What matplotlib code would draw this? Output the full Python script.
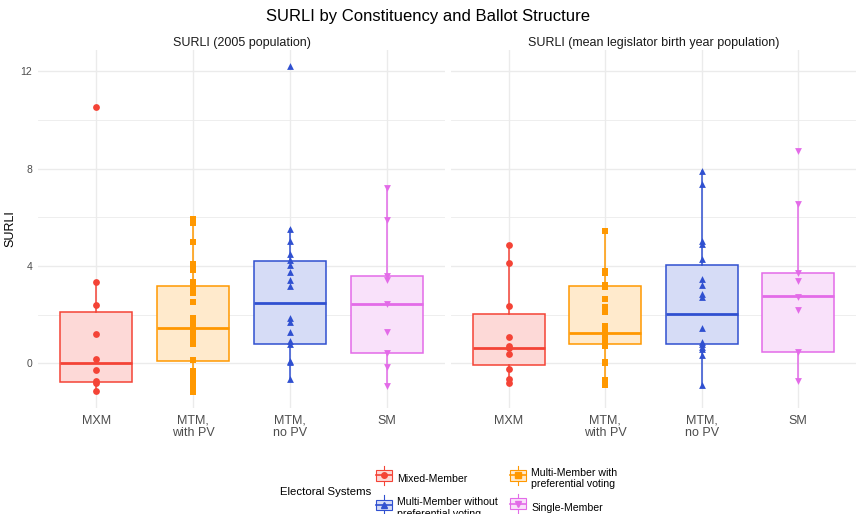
import numpy as np
import matplotlib
matplotlib.use('Agg')
import matplotlib.pyplot as plt
from matplotlib.lines import Line2D
from matplotlib.patches import Rectangle

plt.rcParams['font.family'] = ['Liberation Sans', 'DejaVu Sans']

# categories / groups
cats = ['MXM', 'MTM,\nwith PV', 'MTM,\nno PV', 'SM']
systems = ['Mixed-Member', 'Multi-Member with\npreferential voting',
           'Multi-Member without\npreferential voting', 'Single-Member']
colors = ['#F44336', '#FF9800', '#3050D0', '#E36BE8']
markers = ['o', 's', '^', 'v']
panels = ['SURLI (2005 population)', 'SURLI (mean legislator birth year population)']

# panel 1: 2005 population
pts_2005 = [
    [10.53, 3.34, 2.40, 1.23, 0.19, -0.26, -0.73, -0.79, -1.11],
    [5.93, 5.76, 4.99, 4.08, 3.83, 3.36, 3.12, 2.89, 2.53, 1.87, 1.70, 1.55, 1.40,
     1.25, 1.10, 0.95, 0.80, 0.15, -0.30, -0.50, -0.70, -0.90, -1.05, -1.16],
    [12.2, 5.50, 5.02, 4.48, 4.26, 4.03, 3.76, 3.43, 3.18, 1.87, 1.71, 1.28, 0.94,
     0.80, 0.12, 0.07, -0.62],
    [7.20, 5.88, 3.60, 3.41, 2.43, 1.30, 0.45, -0.15, -0.94],
]
q1_2005 = [-0.76, 0.12, 0.79, 0.45]
med_2005 = [0.0, 1.44, 2.50, 2.44]
q3_2005 = [2.10, 3.16, 4.19, 3.60]
lo_2005 = [-1.11, -1.16, -0.62, -0.94]
hi_2005 = [3.34, 5.93, 5.50, 7.20]

# panel 2: mean legislator birth year population
pts_birth = [
    [4.86, 4.12, 2.35, 1.07, 0.72, 0.62, 0.37, -0.22, -0.62, -0.80],
    [5.43, 3.81, 3.73, 3.24, 3.15, 2.63, 2.32, 2.12, 1.53, 1.28, 1.10, 0.90, 0.70,
     0.08, 0.03, -0.66, -0.87],
    [7.90, 7.35, 5.01, 4.90, 4.29, 3.46, 3.22, 2.86, 2.73, 1.44, 0.90, 0.79, 0.69,
     0.58, 0.34, -0.90],
    [8.74, 6.55, 3.70, 3.38, 2.74, 2.20, 0.46, -0.71],
]
q1_birth = [-0.07, 0.80, 0.79, 0.46]
med_birth = [0.64, 1.25, 2.05, 2.75]
q3_birth = [2.02, 3.18, 4.06, 3.72]
lo_birth = [-0.80, -0.87, -0.90, -0.71]
hi_birth = [4.86, 5.43, 7.90, 6.55]


def fade(c, a=0.2):
    rgb = np.array(matplotlib.colors.to_rgb(c))
    return tuple(1 - a + a * rgb)


class BoxKey:
    def legend_artist(self, legend, orig_handle, fontsize, handlebox):
        x0, y0 = handlebox.xdescent, handlebox.ydescent
        w, h = handlebox.width, handlebox.height
        c = orig_handle.get_color()
        m = orig_handle.get_marker()
        cx = x0 + w / 2
        arts = [
            Line2D([cx, cx], [y0 - 3, y0 + h + 3], color=c, lw=0.8),
            Rectangle((x0, y0), w, h, facecolor=fade(c), edgecolor=c, lw=0.8),
            Line2D([x0, x0 + w], [y0 + h / 2, y0 + h / 2], color=c, lw=1.2),
            Line2D([cx], [y0 + h / 2], marker=m, color=c, ms=4, lw=0),
        ]
        for a in arts:
            a.set_transform(handlebox.get_transform())
            handlebox.add_artist(a)
        return arts[1]


W, H = 856, 514
fig = plt.figure(figsize=(W / 100, H / 100), dpi=100)
ax1 = fig.add_axes([38 / W, (H - 408) / H, 407 / W, 358 / H])
ax2 = fig.add_axes([451 / W, (H - 408) / H, 405 / W, 358 / H])

allv = np.concatenate([np.concatenate(pts_2005), np.concatenate(pts_birth)])
span = allv.max() - allv.min()
ylim = (allv.min() - 0.05 * span, allv.max() + 0.05 * span)

data = [(pts_2005, q1_2005, med_2005, q3_2005, lo_2005, hi_2005),
        (pts_birth, q1_birth, med_birth, q3_birth, lo_birth, hi_birth)]

for ax, title, (pts, q1, med, q3, lo, hi) in zip([ax1, ax2], panels, data):
    x = np.arange(len(cats))
    for i in range(len(cats)):
        stats = [dict(q1=q1[i], med=med[i], q3=q3[i], whislo=lo[i], whishi=hi[i])]
        ax.bxp(stats, positions=[i], widths=0.75, showfliers=False, showcaps=False,
               patch_artist=True,
               boxprops=dict(facecolor=fade(colors[i]), edgecolor=colors[i], lw=1.1),
               medianprops=dict(color=colors[i], lw=2.0),
               whiskerprops=dict(color=colors[i], lw=1.1), zorder=2)
        ax.scatter(np.full(len(pts[i]), i), pts[i], marker=markers[i], s=24,
                   color=colors[i], lw=0, zorder=3)
    ax.set_xlim(-0.6, 3.6)
    ax.set_ylim(*ylim)
    ax.set_xticks(x)
    ax.set_xticklabels(cats, fontsize=9, color='#4D4D4D', linespacing=1.05)
    ax.set_yticks([0, 4, 8, 12])
    ax.set_yticks([2, 6, 10], minor=True)
    ax.grid(True, which='major', color='#EBEBEB', lw=1.0, zorder=0)
    ax.grid(True, which='minor', axis='y', color='#EBEBEB', lw=0.6, zorder=0)
    ax.set_axisbelow(True)
    ax.tick_params(length=0, which='both', labelsize=7.5, labelcolor='#4D4D4D', pad=4)
    ax.tick_params(axis='x', labelsize=9, pad=5)
    for s in ax.spines.values():
        s.set_visible(False)
    ax.set_title(title, fontsize=9, color='#1A1A1A', pad=3)

ax2.set_yticklabels([])
ax1.set_ylabel('SURLI', fontsize=9, labelpad=3)

fig.suptitle('SURLI by Constituency and Ballot Structure', fontsize=12, y=1 - 16 / H,
             va='center')

handles = [Line2D([], [], color=colors[i], marker=markers[i]) for i in [0, 2, 1, 3]]
labels = [systems[i] for i in [0, 2, 1, 3]]
fig.legend(handles, labels, handler_map={Line2D: BoxKey()}, ncol=2,
           loc='upper left', bbox_to_anchor=(366 / W, 1 - 458 / H), frameon=False,
           fontsize=7.6, handlelength=1.55, handleheight=1.15, handletextpad=0.5,
           columnspacing=1.1, labelspacing=1.2)
fig.text(280 / W, 1 - 492 / H, 'Electoral Systems', fontsize=8.2, va='center')

plt.savefig('out.png', dpi=100)
